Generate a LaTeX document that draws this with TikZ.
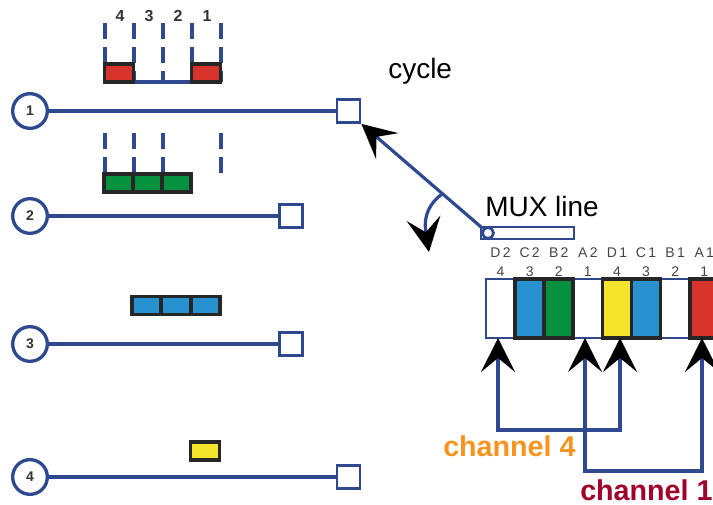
\documentclass[tikz,border=0pt]{standalone}
\usepackage{fontspec}
\setmainfont{Liberation Sans}
\usetikzlibrary{arrows.meta,calc}
\definecolor{navy}{HTML}{2E4990}
\definecolor{slotred}{HTML}{D7322C}
\definecolor{slotgreen}{HTML}{06913E}
\definecolor{slotblue}{HTML}{2792CF}
\definecolor{slotyellow}{HTML}{F4E52C}
\definecolor{chorange}{HTML}{F7931E}
\definecolor{chred}{HTML}{A0002A}
\definecolor{inkgray}{HTML}{333333}
\definecolor{labgray}{HTML}{444444}
\tikzset{bigtip/.tip={Stealth[length=25.5pt,width=25.5pt,inset=10.5pt,color=black]}}
\begin{document}
\begin{tikzpicture}[x=0.75pt,y=-0.75pt,
  wire/.style={draw=navy,line width=3pt},
  ring/.style={circle,draw=navy,fill=white,line width=2.5pt,minimum size=26pt,inner sep=0pt,
    font=\fontsize{10.5}{12}\selectfont\bfseries,text=inkgray},
  term/.style={rectangle,draw=navy,fill=white,line width=2pt,minimum size=17.25pt,inner sep=0pt},
  slot/.style={rectangle,draw=black!85,line width=2.8pt,minimum width=21.75pt,minimum height=13.5pt,inner sep=0pt},
  dashcol/.style={draw=navy,line width=3pt,dash pattern=on 12pt off 6pt},
  cell/.style={rectangle,minimum width=21.8pt,minimum height=44.25pt,inner sep=0pt,outer sep=0pt},
  emptycell/.style={cell,draw=navy,fill=white,line width=2pt},
  fullcell/.style={cell,draw=black!85,line width=2.8pt},
  bigtext/.style={anchor=base west,inner sep=0pt,font=\fontsize{21}{24}\selectfont},
  chantext/.style={anchor=base west,inner sep=0pt,font=\fontsize{21.5}{24}\selectfont\bfseries},
  reglab/.style={anchor=base,inner sep=0pt,font=\fontsize{10.5}{12}\selectfont,text=labgray},
  collab/.style={anchor=base,inner sep=0pt,font=\fontsize{12}{14}\selectfont\bfseries,text=inkgray},
  chan/.style={draw=navy,line width=2.4pt},
]
\useasboundingbox (0,0) rectangle (713,505);
\clip (0,0) rectangle (713,505);

% ---- time slot columns of source 1 ----
\foreach \x in {105,134,163,192,221} \draw[dashcol] (\x,23) -- (\x,82);
\draw[wire] (105,82) -- (221,82);
\node[collab] (k4) at (120,22) {4};
\node[collab] (k3) at (149,22) {3};
\node[collab] (k2) at (178,22) {2};
\node[collab] (k1) at (207,22) {1};
\node[slot,fill=slotred] (a4) at (119,73) {};
\node[slot,fill=slotred] (a1) at (206,73) {};

% ---- time slot columns of source 2 ----
\foreach \x in {105,134,163,221} \draw[dashcol] (\x,133) -- (\x,174);
\node[slot,fill=slotgreen] (b1) at (118.5,183) {};
\node[slot,fill=slotgreen] (b2) at (147.5,183) {};
\node[slot,fill=slotgreen] (b3) at (176.5,183) {};

% ---- sources 3 and 4 ----
\node[slot,fill=slotblue] (d1) at (146.5,305.5) {};
\node[slot,fill=slotblue] (d2) at (176,305.5) {};
\node[slot,fill=slotblue] (d3) at (205.5,305.5) {};
\node[slot,fill=slotyellow] (y1) at (205,451) {};

% ---- input lines ----
\node[ring] (c1) at (30,111) {1};
\node[ring] (c2) at (30,216) {2};
\node[ring] (c3) at (30,344) {3};
\node[ring] (c4) at (30,477) {4};
\node[term] (s1) at (348.5,111) {};
\node[term] (s2) at (291,216) {};
\node[term] (s3) at (291,344) {};
\node[term] (s4) at (348.5,477) {};
\draw[wire] (c1) -- (s1);
\draw[wire] (c2) -- (s2);
\draw[wire] (c3) -- (s3);
\draw[wire] (c4) -- (s4);

% ---- rotating switch ----
\node[rectangle,draw=navy,fill=white,line width=2pt,minimum width=69.75pt,minimum height=9pt,inner sep=0pt] (muxbar) at (527.5,233) {};
\node[circle,draw=navy,fill=white,line width=2pt,minimum size=8.25pt,inner sep=0pt] (muxc) at (488,233) {};
\draw[chan,-bigtip] (muxc) -- (s1.south east);
\coordinate (pivot) at ($(s1.south east)!0.64!(muxc)$);
\draw[chan,-bigtip] (pivot) .. controls (430,203) and (423,215) .. (429,252);
\node[bigtext] (cyc) at (388,79) {cycle};
\node[bigtext] (muxl) at (485,217) {MUX line};

% ---- multiplexed frame ----
\node[emptycell] (r1) at (500.55,308.5) {};
\node[emptycell] (r4) at (587.85,308.5) {};
\node[emptycell] (r7) at (675.15,308.5) {};
\node[fullcell,fill=slotblue] (r2) at (529.65,308.5) {};
\node[fullcell,fill=slotgreen] (r3) at (558.75,308.5) {};
\node[fullcell,fill=slotyellow] (r5) at (616.95,308.5) {};
\node[fullcell,fill=slotblue] (r6) at (646.05,308.5) {};
\node[fullcell,fill=slotred] (r8) at (704.25,308.5) {};
\foreach \i/\t/\n in {1/D\,2/4,2/C\,2/3,3/B\,2/2,4/A\,2/1,5/D\,1/4,6/C\,1/3,7/B\,1/2,8/A\,1/1} {
  \node[reglab] (t\i) at ($(r\i.center)+(0,-50.5)$) {\t};
  \node[reglab] (n\i) at ($(r\i.center)+(0,-31.5)$) {\n};
}

% ---- channel selection ----
\draw[chan,bigtip-bigtip] ([xshift=-1.9pt]r1.south) -- ++(0,92) -| ([xshift=2.3pt]r5.south);
\draw[chan,bigtip-bigtip] ([xshift=-2.1pt]r4.south) -- ++(0,133) -| ([xshift=-1.7pt]r8.south);
\node[chantext,text=chorange] (ch4) at (443,456) {channel 4};
\node[chantext,text=chred] (ch1) at (580,500) {channel 1};
\end{tikzpicture}
\end{document}
